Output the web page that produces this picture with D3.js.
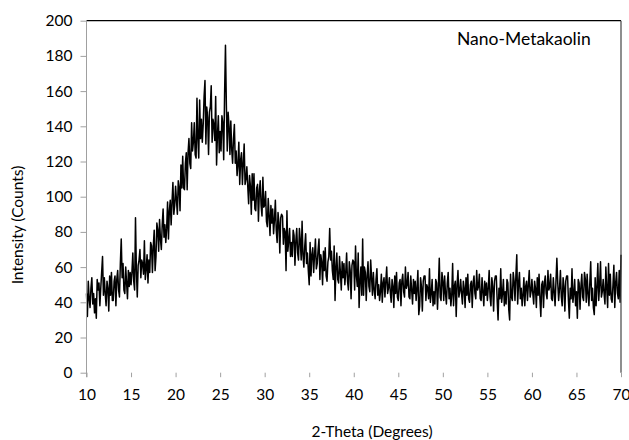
<!DOCTYPE html>
<html>
<head>
<meta charset="utf-8">
<title>Nano-Metakaolin XRD</title>
<script src="https://cdn.jsdelivr.net/npm/d3@7"></script>
<style>
  body { margin: 0; background: #fff; }
  text { font-family: Lato, "Open Sans", sans-serif; fill: #000; }
</style>
</head>
<body>
<div id="chart"></div>
<script>
// scan settings
var startAngle = 10, stepAngle = 0.1;
var xTicks = [10, 15, 20, 25, 30, 35, 40, 45, 50, 55, 60, 65, 70];
var yTicks = [0, 20, 40, 60, 80, 100, 120, 140, 160, 180, 200];
var sampleName = "Nano-Metakaolin";

// intensity (counts), one row per degree, 10.0 .. 69.9 then 70.0
var intensity = [
  45, 32, 52, 42, 37, 48, 54, 39, 45, 34,
  42, 31, 53, 47, 51, 38, 48, 57, 66, 44,
  54, 45, 38, 52, 48, 35, 55, 44, 57, 41,
  41, 52, 55, 38, 53, 58, 47, 43, 62, 76,
  54, 62, 47, 45, 60, 51, 42, 58, 49, 57,
  50, 57, 68, 52, 47, 88, 58, 43, 61, 64,
  70, 54, 64, 62, 56, 75, 53, 59, 67, 51,
  64, 57, 74, 72, 57, 72, 81, 58, 66, 85,
  81, 69, 87, 76, 70, 84, 93, 77, 84, 74,
  82, 97, 76, 92, 98, 84, 97, 108, 90, 95,
  106, 98, 90, 109, 105, 92, 118, 105, 123, 105,
  104, 119, 125, 104, 125, 133, 119, 116, 142, 126,
  131, 142, 124, 122, 156, 133, 122, 155, 133, 144,
  131, 141, 157, 166, 130, 151, 145, 124, 148, 151,
  163, 131, 144, 141, 132, 157, 118, 135, 146, 125,
  137, 126, 146, 142, 121, 158, 186, 152, 126, 148,
  140, 124, 143, 127, 119, 133, 141, 119, 126, 112,
  118, 131, 107, 121, 125, 107, 119, 130, 107, 110,
  117, 106, 96, 112, 106, 90, 113, 98, 113, 93,
  92, 105, 107, 86, 103, 109, 95, 89, 111, 94,
  95, 103, 86, 83, 99, 89, 78, 95, 85, 93,
  79, 87, 98, 81, 74, 91, 85, 68, 88, 90,
  89, 73, 82, 80, 58, 92, 69, 75, 82, 66,
  74, 66, 81, 78, 61, 75, 82, 68, 64, 82,
  75, 64, 86, 67, 60, 72, 79, 62, 68, 58,
  50, 74, 55, 67, 71, 57, 67, 76, 59, 62,
  70, 76, 53, 67, 63, 50, 69, 58, 71, 55,
  52, 63, 66, 82, 64, 69, 58, 53, 72, 41,
  60, 68, 53, 51, 66, 57, 47, 63, 54, 62,
  50, 57, 68, 52, 47, 63, 58, 42, 61, 64,
  63, 47, 72, 55, 49, 68, 37, 52, 60, 44,
  76, 44, 60, 57, 41, 55, 63, 49, 46, 64,
  54, 44, 57, 47, 42, 53, 59, 44, 50, 41,
  46, 56, 40, 51, 54, 43, 52, 60, 45, 48,
  54, 46, 40, 53, 49, 37, 55, 45, 57, 43,
  41, 51, 53, 38, 52, 56, 46, 43, 60, 48,
  50, 57, 43, 42, 55, 47, 39, 53, 45, 52,
  41, 48, 58, 33, 38, 54, 49, 35, 52, 55,
  55, 41, 50, 48, 42, 59, 40, 45, 53, 38,
  46, 39, 53, 51, 36, 49, 65, 43, 41, 57,
  52, 41, 55, 45, 39, 51, 57, 42, 48, 38,
  44, 62, 38, 49, 52, 32, 50, 58, 43, 46,
  53, 45, 39, 52, 48, 37, 54, 44, 56, 42,
  40, 50, 52, 37, 51, 55, 45, 42, 58, 47,
  49, 56, 42, 41, 54, 46, 38, 52, 44, 51,
  41, 48, 58, 43, 38, 54, 49, 35, 52, 55,
  55, 41, 30, 48, 42, 59, 40, 45, 53, 38,
  46, 39, 53, 51, 36, 30, 56, 43, 41, 57,
  52, 41, 55, 67, 39, 51, 57, 42, 48, 38,
  44, 54, 38, 49, 52, 41, 50, 58, 43, 46,
  53, 45, 39, 52, 48, 37, 54, 44, 56, 42,
  32, 50, 52, 37, 51, 55, 45, 42, 58, 47,
  49, 56, 42, 41, 54, 46, 38, 52, 65, 51,
  41, 48, 58, 43, 38, 54, 49, 35, 52, 55,
  55, 41, 31, 48, 42, 59, 40, 45, 53, 38,
  46, 31, 53, 51, 36, 49, 56, 43, 41, 57,
  53, 40, 56, 45, 38, 51, 63, 41, 48, 37,
  33, 54, 38, 49, 62, 41, 50, 63, 43, 46,
  53, 45, 39, 60, 48, 37, 62, 44, 56, 42,
  40, 50, 61, 37, 51, 57, 45, 42, 58, 40,
  67
];

var w = 629, h = 440;
var margin = {top: 20.7, right: 8, bottom: 67.3, left: 86.5};

var svg = d3.select("#chart").append("svg")
  .attr("width", w)
  .attr("height", h);

var x = d3.scaleLinear().domain([10, 70]).range([margin.left, w - margin.right]);
var y = d3.scaleLinear().domain([0, 200]).range([h - margin.bottom, margin.top]);

var data = intensity.map(function(v, i) {
  return {t: startAngle + i * stepAngle, v: v};
});

// pattern
var line = d3.line()
  .x(function(d) { return x(d.t); })
  .y(function(d) { return y(d.v); });

svg.append("path")
  .datum(data)
  .attr("fill", "none")
  .attr("stroke", "#000")
  .attr("stroke-width", 1.5)
  .attr("stroke-linejoin", "round")
  .attr("d", line);

// plot frame: black top, dark right
svg.append("line")
  .attr("x1", x(10)).attr("x2", x(70))
  .attr("y1", y(200)).attr("y2", y(200))
  .attr("stroke", "#000").attr("stroke-width", 1.2);
svg.append("line")
  .attr("x1", x(70)).attr("x2", x(70))
  .attr("y1", y(200)).attr("y2", y(0))
  .attr("stroke", "#444").attr("stroke-width", 1.2);

// y axis
var yAxis = d3.axisLeft(y).tickValues(yTicks).tickSize(6).tickPadding(8);
var gy = svg.append("g")
  .attr("transform", "translate(" + x(10) + ",0)")
  .call(yAxis);
gy.select(".domain").attr("stroke", "#a0a0a0").attr("d", "M0," + y(200) + "V" + (y(0) + 4.5));
gy.selectAll(".tick line").attr("stroke", "#a0a0a0");
gy.selectAll("text").style("font-size", "15.5px").attr("fill", "#000");

// x axis: ticks only, no baseline
var xAxis = d3.axisBottom(x).tickValues(xTicks).tickSize(4.5).tickPadding(12);
var gx = svg.append("g")
  .attr("transform", "translate(0," + y(0) + ")")
  .call(xAxis);
gx.select(".domain").remove();
gx.selectAll(".tick line").attr("stroke", "#a0a0a0");
gx.selectAll("text").style("font-size", "15.5px").attr("fill", "#000");

// titles
svg.append("text")
  .attr("x", 372).attr("y", 437)
  .attr("text-anchor", "middle")
  .style("font-size", "15.5px")
  .text("2-Theta (Degrees)");

svg.append("text")
  .attr("transform", "translate(23,225) rotate(-90)")
  .attr("text-anchor", "middle")
  .style("font-size", "15.5px")
  .text("Intensity (Counts)");

svg.append("text")
  .attr("x", 457).attr("y", 45)
  .style("font-size", "17.5px")
  .text(sampleName);
</script>
</body>
</html>
